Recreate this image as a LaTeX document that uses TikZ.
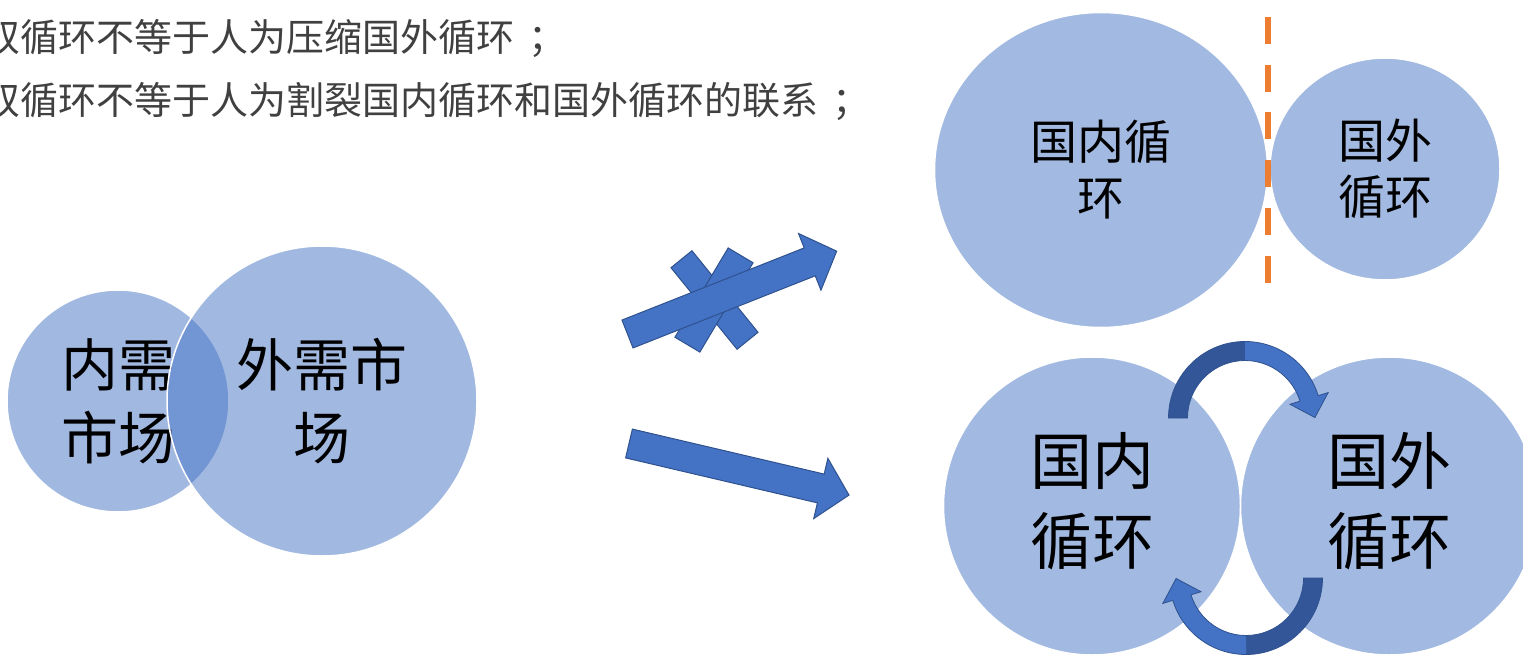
\documentclass[tikz,border=0pt]{standalone}
\usepackage{fontspec}
\newfontfamily\cjk{Noto Sans CJK SC}
\usetikzlibrary{shapes.geometric}
\definecolor{acc}{RGB}{68,114,196}
\definecolor{accdark}{RGB}{47,82,143}
\definecolor{arcdark}{RGB}{50,86,152}
\definecolor{bubblefill}{RGB}{162,185,225}
\definecolor{sepor}{RGB}{237,125,49}
\definecolor{txtgray}{RGB}{64,64,64}
\newcommand{\fwsemi}{\kern0.38em；}
\begin{document}
\begin{tikzpicture}[x=1pt,y=-1pt,
  vennbubble/.style={circle, inner sep=0pt, fill=acc, fill opacity=0.5, text opacity=1,
    draw=white, line width=1.5pt, align=center, text=black,
    font=\cjk\fontsize{57}{73}\selectfont},
  bubble/.style={ellipse, inner sep=0pt, fill=bubblefill, draw=white, line width=1.5pt,
    align=center, text=black},
  bigtext/.style={inner sep=0pt, align=center, text=black,
    font=\cjk\fontsize{62}{80}\selectfont},
  headline/.style={anchor=base west, inner sep=0pt, text=txtgray,
    font=\cjk\fontsize{38}{38}\selectfont},
  blockarrow/.style={fill=acc, draw=accdark, line width=1pt, line join=miter},
  arcoutline/.style={draw=accdark, line width=0.8pt, line join=miter},
  sepline/.style={draw=sepor, line width=6.5pt, dash pattern=on 27pt off 20.7pt},
]
\useasboundingbox (0,0) rectangle (1523,658);

% heading lines
\node[headline] (line1) at (-18,51.5) {双循环不等于人为压缩国外循环\fwsemi};
\node[headline] (line2) at (-18,114.5) {双循环不等于人为割裂国内循环和国外循环的联系\fwsemi};

% Venn diagram
\node[vennbubble, minimum size=222pt] (vin) at (118,401) {内需\\市场};
\node[vennbubble, minimum size=310pt] (vout) at (322,401) {外需市\\场};

% crossed-out arrow
\begin{scope}[shift={(714.5,300)}, rotate=-51]
  \draw[blockarrow] (-52.5,-13.5) -- (52.5,-13.5) -- (52.5,13.5) -- (-52.5,13.5) -- cycle;
\end{scope}
\begin{scope}[shift={(714,300)}, rotate=59.2]
  \draw[blockarrow] (-52,-14.5) -- (52,-14.5) -- (52,14.5) -- (-52,14.5) -- cycle;
\end{scope}
\begin{scope}[shift={(627.5,334)}, rotate=21.6]
  \draw[blockarrow] (0,-15) -- (196,-15) -- (196,-30.5) -- (225,0) -- (196,30.5) -- (196,15) -- (0,15) -- cycle;
\end{scope}

% valid arrow
\begin{scope}[shift={(629,443.5)}, rotate=-13.2]
  \draw[blockarrow] (0,-14.8) -- (197,-14.8) -- (197,-31) -- (226,0) -- (197,31) -- (197,14.8) -- (0,14.8) -- cycle;
\end{scope}

% top right: separated circles
\node[bubble, minimum width=333pt, minimum height=315pt,
  font=\cjk\fontsize{47}{56}\selectfont] (tdom) at (1101,170) {国内循\\环};
\node[bubble, minimum width=230pt, minimum height=222pt,
  font=\cjk\fontsize{47}{56}\selectfont] (tfor) at (1385,169) {国外\\循环};
\coordinate (septop) at (1268,17);
\coordinate (sepbot) at (1268,283);
\draw[sepline] (septop) -- (sepbot);

% bottom right: linked circles
\node[bubble, minimum width=297pt, minimum height=298pt] (bdom) at (1092,506) {};
\node[bubble, minimum width=297pt, minimum height=298pt] (bfor) at (1389,506) {};
\node[bigtext] (bdomtext) at ([yshift=5pt]bdom.center) {国内\\循环};
\node[bigtext] (bfortext) at ([yshift=5pt]bfor.center) {国外\\循环};

% upper curved arrow
\begin{scope}[shift={(1245,418)}, yscale=-1]
  \fill[arcdark] (180:76.5) arc[start angle=180, end angle=90, radius=76.5]
    -- (90:57.5) arc[start angle=90, end angle=180, radius=57.5] -- cycle;
  \fill[acc] (90:76.5) arc[start angle=90, end angle=17, radius=76.5]
    -- (17:87) -- (69.9,0.46) -- (17:47) -- (17:57.5)
    arc[start angle=17, end angle=90, radius=57.5] -- cycle;
  \draw[arcoutline] (180:76.5) arc[start angle=180, end angle=17, radius=76.5]
    -- (17:87) -- (69.9,0.46) -- (17:47) -- (17:57.5)
    arc[start angle=17, end angle=180, radius=57.5] -- cycle;
\end{scope}

% lower curved arrow
\begin{scope}[shift={(1246,578)}, yscale=-1]
  \fill[arcdark] (0:76.5) arc[start angle=0, end angle=-90, radius=76.5]
    -- (-90:57.5) arc[start angle=-90, end angle=0, radius=57.5] -- cycle;
  \fill[acc] (-90:76.5) arc[start angle=-90, end angle=-163, radius=76.5]
    -- (-163:87) -- (-69.9,-0.46) -- (-163:47) -- (-163:57.5)
    arc[start angle=-163, end angle=-90, radius=57.5] -- cycle;
  \draw[arcoutline] (0:76.5) arc[start angle=0, end angle=-163, radius=76.5]
    -- (-163:87) -- (-69.9,-0.46) -- (-163:47) -- (-163:57.5)
    arc[start angle=-163, end angle=0, radius=57.5] -- cycle;
\end{scope}
\end{tikzpicture}
\end{document}
